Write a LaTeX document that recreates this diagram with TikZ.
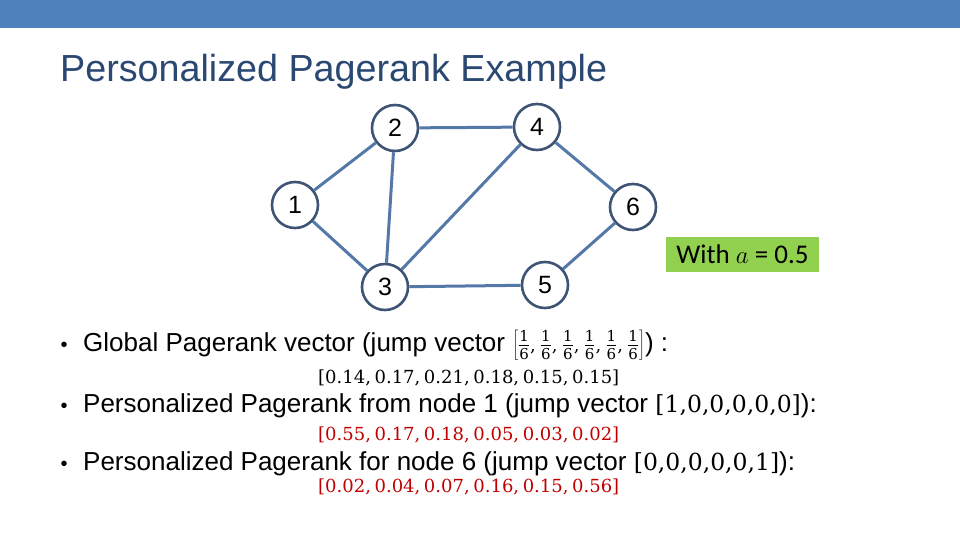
\documentclass[tikz,border=0pt]{standalone}
\usepackage{fontspec}
\setmainfont{Liberation Sans}
\newfontfamily\calib{Carlito}
\newfontfamily\cambr{DejaVu Serif}
\definecolor{barblue}{HTML}{4F81BD}
\definecolor{titleblue}{HTML}{2B4873}
\definecolor{circ}{HTML}{3E5475}
\definecolor{edgeblue}{HTML}{5478A8}
\definecolor{vred}{HTML}{C00000}
\definecolor{boxgreen}{HTML}{92D050}
\tikzset{
  gnode/.style={circle,draw=circ,line width=2.6pt,fill=white,minimum size=46pt,inner sep=0pt,font=\fontsize{25}{25}\selectfont},
  gedge/.style={draw=edgeblue,line width=3pt},
  btext/.style={anchor=base west,inner sep=0pt,font=\fontsize{26}{26}\selectfont},
  vtext/.style={anchor=base west,inner sep=0pt,font=\cambr\fontsize{18}{18}\selectfont},
  bul/.style={anchor=base,inner sep=0pt,font=\fontsize{20}{20}\selectfont}
}
\newcommand{\jv}[1]{{\cambr\fontsize{23.5}{24}\selectfont #1}}
\newcommand{\sixth}{\frac{\hbox{\cambr\fontsize{15}{15}\selectfont 1}}{\hbox{\cambr\fontsize{15}{15}\selectfont 6}}}
\newcommand{\fcm}{\hbox{\cambr\fontsize{18}{18}\selectfont ,}\mskip3mu}
\newcommand{\vs}{\hspace{0.2em}}
\begin{document}
\begin{tikzpicture}[x=1pt,y=-1pt]
\useasboundingbox (0,0) rectangle (960,540);
\fill[barblue] (0,0) rectangle (960,28);
\node[anchor=base west,inner sep=0pt,text=titleblue,font=\fontsize{37.7}{38}\selectfont] (title) at (60,82) {Personalized Pagerank Example};
% graph
\node[gnode] (n1) at (295,205) {1};
\node[gnode] (n2) at (395,128) {2};
\node[gnode] (n3) at (385,287) {3};
\node[gnode] (n4) at (537,127) {4};
\node[gnode] (n5) at (545,285) {5};
\node[gnode] (n6) at (633,207) {6};
\draw[gedge] (n1) -- (n2);
\draw[gedge] (n1) -- (n3);
\draw[gedge] (n2) -- (n4);
\draw[gedge] (n2) -- (n3);
\draw[gedge] (n3) -- (n4);
\draw[gedge] (n3) -- (n5);
\draw[gedge] (n4) -- (n6);
\draw[gedge] (n5) -- (n6);
% green box
\node[fill=boxgreen,minimum width=153pt,minimum height=35pt,inner sep=0pt,font=\calib\fontsize{27}{27}\selectfont] (box) at (742.5,254.5) {With $a$ = 0.5};
% bullets
\node[bul] (b1) at (64,351) {•};
\node[btext] (t1) at (83,351) {Global Pagerank vector (jump vector $\left[\sixth\fcm\sixth\fcm\sixth\fcm\sixth\fcm\sixth\fcm\sixth\right]$) :};
\node[vtext] (v1) at (318,383) {[0.14,\vs0.17,\vs0.21,\vs0.18,\vs0.15,\vs0.15]};
\node[bul] (b2) at (64,412) {•};
\node[btext] (t2) at (83,412) {Personalized Pagerank from node 1 (jump vector \jv{[1,0,0,0,0,0]}):};
\node[vtext,text=vred] (v2) at (318,440) {[0.55,\vs0.17,\vs0.18,\vs0.05,\vs0.03,\vs0.02]};
\node[bul] (b3) at (64,470) {•};
\node[btext] (t3) at (83,470) {Personalized Pagerank for node 6 (jump vector \jv{[0,0,0,0,0,1]}):};
\node[vtext,text=vred] (v3) at (318,492) {[0.02,\vs0.04,\vs0.07,\vs0.16,\vs0.15,\vs0.56]};
\end{tikzpicture}
\end{document}
